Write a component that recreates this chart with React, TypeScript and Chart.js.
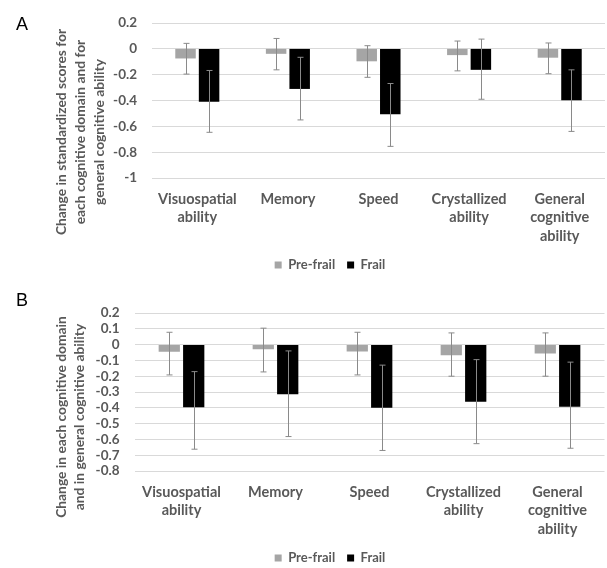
import { useEffect, useRef } from 'react';
import { Chart, registerables } from 'chart.js';

Chart.register(...registerables);

const categories = [
    ['Visuospatial', 'ability'],
    ['Memory'],
    ['Speed'],
    ['Crystallized', 'ability'],
    ['General', 'cognitive', 'ability'],
];
const seriesLabels = ['Pre-frail', 'Frail'];

// panel A: standardized score change, bar value and 95% CI ends
const preFrailA = [-0.074, -0.038, -0.096, -0.048, -0.068];
const preFrailLowA = [-0.195, -0.162, -0.22, -0.17, -0.192];
const preFrailHighA = [0.043, 0.081, 0.025, 0.061, 0.046];
const frailA = [-0.41, -0.31, -0.507, -0.162, -0.398];
const frailLowA = [-0.646, -0.55, -0.755, -0.39, -0.639];
const frailHighA = [-0.167, -0.065, -0.268, 0.076, -0.162];
const yTitleA = ['Change in standardized scores for', 'each cognitive domain and for', 'general cognitive ability'];

// panel B
const preFrailB = [-0.046, -0.029, -0.044, -0.067, -0.057];
const preFrailLowB = [-0.192, -0.173, -0.192, -0.2, -0.2];
const preFrailHighB = [0.078, 0.104, 0.078, 0.074, 0.074];
const frailB = [-0.396, -0.314, -0.399, -0.362, -0.393];
const frailLowB = [-0.662, -0.582, -0.67, -0.627, -0.656];
const frailHighB = [-0.171, -0.04, -0.13, -0.095, -0.111];
const yTitleB = ['Change in each cognitive domain', 'and in general cognitive ability'];

const FONT = 'Lato, "Open Sans", sans-serif';
const TEXT_GREY = '#595959';

const errorBarPlugin = {
    id: 'errorBars',
    afterDatasetsDraw(chart: any) {
        const { ctx } = chart;
        const yScale = chart.scales.y;
        chart.data.datasets.forEach((ds: any, di: number) => {
            const meta = chart.getDatasetMeta(di);
            meta.data.forEach((bar: any, i: number) => {
                const x = Math.round(bar.x) + 0.5;
                const yTop = yScale.getPixelForValue(ds.ciHigh[i]);
                const yBot = yScale.getPixelForValue(ds.ciLow[i]);
                ctx.save();
                ctx.strokeStyle = '#8a8a8a';
                ctx.lineWidth = 1;
                ctx.beginPath();
                ctx.moveTo(x, yTop);
                ctx.lineTo(x, yBot);
                ctx.moveTo(x - 3, yTop);
                ctx.lineTo(x + 3, yTop);
                ctx.moveTo(x - 3, yBot);
                ctx.lineTo(x + 3, yBot);
                ctx.stroke();
                ctx.restore();
            });
        });
    },
};

// rotated multi-line axis title, centred on a given point
const sideTitlePlugin = {
    id: 'sideTitle',
    afterDraw(chart: any, _args: any, opts: any) {
        const { ctx } = chart;
        const lines: string[] = opts.lines || [];
        ctx.save();
        ctx.translate(opts.x, opts.y);
        ctx.rotate(-Math.PI / 2);
        ctx.font = `bold 13.8px ${FONT}`;
        ctx.fillStyle = TEXT_GREY;
        ctx.textAlign = 'center';
        ctx.textBaseline = 'middle';
        lines.forEach((line, i) => {
            ctx.fillText(line, 0, (i - (lines.length - 1) / 2) * opts.gap);
        });
        ctx.restore();
    },
};

// move the legend so its centre sits where the reference has it
const legendShiftPlugin = {
    id: 'legendShift',
    afterLayout(chart: any, _args: any, opts: any) {
        const lg = chart.legend;
        if (!lg) return;
        const shift = opts.centerX - (lg.left + lg.right) / 2;
        lg.left += shift;
        lg.right += shift;
    },
};

interface PanelProps {
    letter: string;
    top: number;
    height: number;
    pre: number[];
    preLow: number[];
    preHigh: number[];
    frail: number[];
    frailLow: number[];
    frailHigh: number[];
    yMin: number;
    yMax: number;
    yTickCount: number;
    yTitle: string[];
    plotLeft: number;
    plotRight: number;
    plotTop: number;
    xAxisHeight: number;
    padBottom: number;
    titleX: number;
    titleY: number;
    titleGap: number;
    legendX: number;
    letterTop: number;
}

const Panel = (p: PanelProps) => {
    const chartRef = useRef<HTMLCanvasElement | null>(null);

    useEffect(() => {
        if (!chartRef.current) return;
        const ctx = chartRef.current.getContext('2d');
        if (!ctx) return;

        const myChart = new Chart(ctx, {
            type: 'bar',
            data: {
                labels: categories,
                datasets: [
                    {
                        label: seriesLabels[0],
                        data: p.pre,
                        ciLow: p.preLow,
                        ciHigh: p.preHigh,
                        backgroundColor: '#a5a5a5',
                        categoryPercentage: 0.52,
                        barPercentage: 0.87,
                    } as any,
                    {
                        label: seriesLabels[1],
                        data: p.frail,
                        ciLow: p.frailLow,
                        ciHigh: p.frailHigh,
                        backgroundColor: '#000000',
                        categoryPercentage: 0.52,
                        barPercentage: 0.87,
                    } as any,
                ],
            },
            options: {
                responsive: false,
                animation: false,
                layout: {
                    padding: { top: p.plotTop, left: 0, right: 607 - p.plotRight, bottom: p.padBottom },
                },
                scales: {
                    x: {
                        grid: { display: false, drawTicks: false },
                        border: { display: false },
                        ticks: {
                            color: TEXT_GREY,
                            padding: 12,
                            maxRotation: 0,
                            autoSkip: false,
                            font: { family: FONT, size: 14.5, weight: 'bold', lineHeight: '18.5px' },
                        },
                        afterFit: (scale: any) => {
                            scale.height = p.xAxisHeight;
                        },
                    },
                    y: {
                        min: p.yMin,
                        max: p.yMax,
                        grid: { color: '#d9d9d9', lineWidth: 1, drawTicks: false },
                        border: { display: false },
                        ticks: {
                            count: p.yTickCount,
                            color: TEXT_GREY,
                            padding: 15,
                            autoSkip: false,
                            font: { family: FONT, size: 13.5, weight: 'bold' },
                            callback: (v: any) => String(Math.round(Number(v) * 10) / 10),
                        },
                        afterFit: (scale: any) => {
                            scale.width = p.plotLeft;
                        },
                    },
                },
                plugins: {
                    legend: {
                        position: 'bottom',
                        labels: {
                            boxWidth: 7,
                            boxHeight: 7,
                            padding: 12,
                            color: TEXT_GREY,
                            font: { family: FONT, size: 13, weight: 'bold' },
                        },
                    },
                    tooltip: { enabled: false },
                    sideTitle: { lines: p.yTitle, x: p.titleX, y: p.titleY, gap: p.titleGap },
                    legendShift: { centerX: p.legendX },
                } as any,
            },
            plugins: [errorBarPlugin, sideTitlePlugin, legendShiftPlugin],
        });

        return () => {
            myChart.destroy();
        };
    }, []);

    return (
        <div style={{ position: 'absolute', left: 0, top: p.top, width: 607, height: p.height }}>
            <div
                style={{
                    position: 'absolute',
                    left: 16,
                    top: p.letterTop,
                    fontFamily: '"Liberation Sans", Arial, sans-serif',
                    fontSize: 18,
                    color: '#000',
                    lineHeight: '20px',
                }}
            >
                {p.letter}
            </div>
            <canvas ref={chartRef} width={607} height={p.height} style={{ display: 'block' }}></canvas>
        </div>
    );
};

const App = () => {
    useEffect(() => {
        document.body.style.margin = '0';
        document.body.style.overflow = 'hidden';
    }, []);

    return (
        <div style={{ position: 'relative', width: 607, height: 568, overflow: 'hidden', background: '#fff' }}>
            <Panel
                letter="A"
                top={0}
                height={283}
                pre={preFrailA}
                preLow={preFrailLowA}
                preHigh={preFrailHighA}
                frail={frailA}
                frailLow={frailLowA}
                frailHigh={frailHighA}
                yMin={-1}
                yMax={0.2}
                yTickCount={7}
                yTitle={yTitleA}
                plotLeft={152}
                plotRight={605}
                plotTop={19}
                xAxisHeight={68.5}
                padBottom={1.5}
                titleX={81}
                titleY={132}
                titleGap={19}
                legendX={330}
                letterTop={14}
            />
            <Panel
                letter="B"
                top={283}
                height={292}
                pre={preFrailB}
                preLow={preFrailLowB}
                preHigh={preFrailHighB}
                frail={frailB}
                frailLow={frailLowB}
                frailHigh={frailHighB}
                yMin={-0.8}
                yMax={0.2}
                yTickCount={11}
                yTitle={yTitleB}
                plotLeft={134.5}
                plotRight={604.5}
                plotTop={30}
                xAxisHeight={68.5}
                padBottom={0.5}
                titleX={71}
                titleY={134}
                titleGap={18}
                legendX={330}
                letterTop={7}
            />
        </div>
    );
};

export default App;
